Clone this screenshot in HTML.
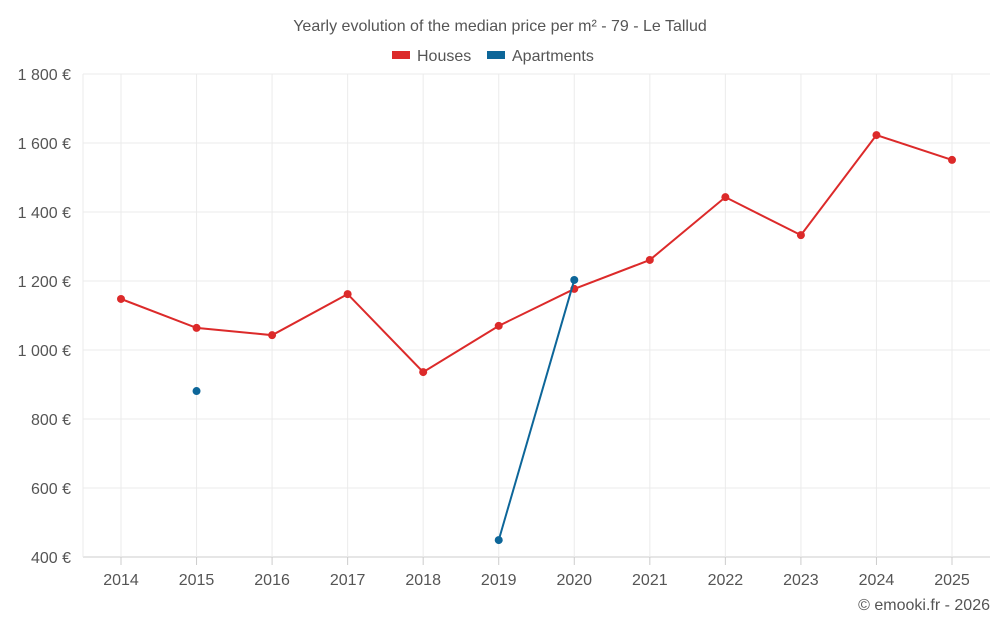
<!DOCTYPE html>
<html><head><meta charset="utf-8">
<style>
body{margin:0;background:#fff;font-family:"Liberation Sans",sans-serif;}
svg{display:block}
text{font-family:"Liberation Sans",sans-serif;}
</style></head>
<body>
<svg id="chart" width="1000" height="625">
<text x="500" y="31" text-anchor="middle" font-size="16" fill="#555">Yearly evolution of the median price per m² - 79 - Le Tallud</text>
<g>
<g><rect x="392" y="51" width="18" height="8" fill="#dc2a2a"/><text x="417" y="61" font-size="16" fill="#555">Houses</text></g>
<g><rect x="487" y="51" width="18" height="8" fill="#0d6699"/><text x="512" y="61" font-size="16" fill="#555">Apartments</text></g>
</g>
<g id="grid"></g><g id="axes"></g><g id="series"></g>
<text x="990" y="610" text-anchor="end" font-size="16" fill="#555">© emooki.fr - 2026</text>
</svg>
<script>
const years=[2014,2015,2016,2017,2018,2019,2020,2021,2022,2023,2024,2025];
const houses=[1148,1064,1043,1162,936,1070,1177,1261,1443,1333,1623,1551];
const apartments=[null,881,null,null,null,449,1203,null,null,null,null,null];
const yTicks=[400,600,800,1000,1200,1400,1600,1800];
const yTickLabels=["400 €","600 €","800 €","1 000 €","1 200 €","1 400 €","1 600 €","1 800 €"];
const NS="http://www.w3.org/2000/svg";
const L=83,R=990,T=74,B=557;
const x0=121,step=(952-121)/11;
function xs(i){return x0+i*step;}
function ys(v){return B-(v-400)/1400*(B-T);}
function mk(tag,attrs,parent){const e=document.createElementNS(NS,tag);for(const k in attrs)e.setAttribute(k,attrs[k]);document.getElementById(parent).appendChild(e);return e;}
yTicks.forEach((v,i)=>{
 const l=mk('line',{x1:L,x2:R,y1:ys(v),y2:ys(v),stroke:i==0?'#ccc':'#ebebeb','stroke-width':1},'grid');
 
 
 const t=mk('text',{x:L-12,y:ys(v)+6,'text-anchor':'end','font-size':16,fill:'#555'},'axes');
 t.textContent=yTickLabels[i];
 
 
});
years.forEach((y,i)=>{
 const l=mk('line',{x1:xs(i),x2:xs(i),y1:T,y2:B,stroke:'#ebebeb','stroke-width':1},'grid');
 
 
 const tk=mk('line',{x1:xs(i),x2:xs(i),y1:B,y2:B+8,stroke:'#ccc'},'axes');
 
 
 const t=mk('text',{x:xs(i),y:B+28,'text-anchor':'middle','font-size':16,fill:'#555'},'axes');
 t.textContent=y;
 
 
});
const gl=mk('line',{x1:L,x2:L,y1:T,y2:B,stroke:'#ebebeb'},'grid');


function drawSeries(vals,color,name){
 let d='',pen=false;
 vals.forEach((v,i)=>{if(v==null){pen=false;return;}d+=(pen?'L':'M')+xs(i)+' '+ys(v)+' ';pen=true;});
 const p=mk('path',{d:d,fill:'none',stroke:color,'stroke-width':2},'series');
 
 
 vals.forEach((v,i)=>{if(v==null)return;
  const c=mk('circle',{cx:xs(i),cy:ys(v),r:4,fill:color},'series');
  
  
 });
}
drawSeries(houses,'#dc2a2a','houses');
drawSeries(apartments,'#0d6699','apartments');
</script>
</body></html>
